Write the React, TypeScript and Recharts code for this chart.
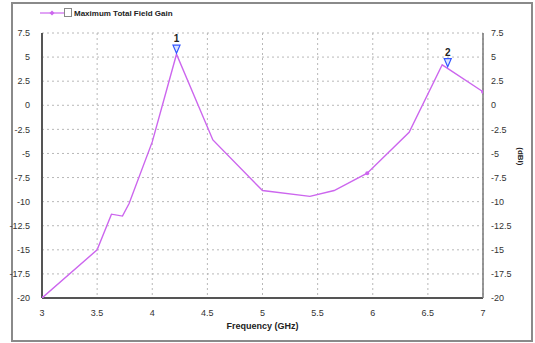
import React from "react";
import {
  ComposedChart,
  Line,
  Scatter,
  XAxis,
  YAxis,
  CartesianGrid,
} from "recharts";

// Frequency sweep (GHz) and maximum total field gain (dBi)
const frequencies = [3, 3.5, 3.63, 3.73, 3.79, 4, 4.22, 4.55, 5, 5.43, 5.65, 5.95, 6.33, 6.63, 7];
const gains = [-20, -15, -11.3, -11.5, -10.2, -3.8, 5.3, -3.6, -8.85, -9.45, -8.85, -7.05, -2.8, 4.2, 1.4];

// Sample points drawn with a dot marker
const dottedFreqs = [3, 5.95, 7];

// Peak markers
const markerFreqs = [4.22, 6.68];
const markerGains = [5.3, 3.9];
const markerLabels = ["1", "2"];

const xTicks = [3, 3.5, 4, 4.5, 5, 5.5, 6, 6.5, 7];
const yTicks = [-20, -17.5, -15, -12.5, -10, -7.5, -5, -2.5, 0, 2.5, 5, 7.5];

const seriesName = "Maximum Total Field Gain";

const lineData = frequencies.map((f, i) => ({ f, g: gains[i] }));
const markerData = markerFreqs.map((f, i) => ({ f, g: markerGains[i], label: markerLabels[i] }));

const LINE_COLOR = "#cc66ee";
const FONT = "'Liberation Sans', Arial, sans-serif";

const MarkerShape = (props: any) => {
  const { cx, cy, payload } = props;
  if (cx == null || cy == null) return null;
  const tipY = cy - 1;
  const top = tipY - 8;
  return (
    <g>
      <polygon
        points={`${cx - 3.5},${top} ${cx + 3.5},${top} ${cx},${tipY}`}
        fill="#dde6ff"
        stroke="#3355ff"
        strokeWidth={1.2}
      />
      <text
        x={cx}
        y={top - 3}
        textAnchor="middle"
        fontFamily={FONT}
        fontSize={10}
        fontWeight="bold"
        fill="#222"
      >
        {payload.label}
      </text>
    </g>
  );
};

const SampleDot = (props: any) => {
  const { cx, cy, payload, index } = props;
  if (cx == null || cy == null || !dottedFreqs.includes(payload.f)) {
    return <g key={`d-${index}`} />;
  }
  return <circle key={`d-${index}`} cx={cx} cy={cy} r={2} fill={LINE_COLOR} />;
};

const tickStyle = { fontFamily: FONT, fontSize: 9, fill: "#333" };

export default function App() {
  return (
    <div style={{ position: "absolute", left: 0, top: 0, width: 535, height: 343, background: "#fff" }}>
      <div
        style={{
          position: "absolute",
          left: 11,
          top: 2,
          width: 518,
          height: 336,
          border: "2px solid #8a8a8a",
        }}
      />
      <svg style={{ position: "absolute", left: 0, top: 0 }} width={300} height={24}>
        <line x1={40} y1={13} x2={64} y2={13} stroke={LINE_COLOR} strokeWidth={1.2} />
        <polygon points="52,10.5 54.5,13 52,15.5 49.5,13" fill={LINE_COLOR} />
        <rect x={64.5} y={8.5} width={7} height={8} fill="#fff" stroke="#888" strokeWidth={1} />
        <text x={74} y={16} fontFamily={FONT} fontSize={8} fontWeight="bold" fill="#222">
          {seriesName}
        </text>
      </svg>
      <div style={{ position: "absolute", left: 0, top: 0 }}>
        <ComposedChart
          width={535}
          height={343}
          margin={{ top: 33, right: 0, bottom: 0, left: 0 }}
        >
          <CartesianGrid
            xAxisId="b"
            yAxisId="l"
            stroke="#b8b8b8"
            strokeDasharray="2 3"
          />
          <XAxis
            xAxisId="b"
            dataKey="f"
            type="number"
            domain={[3, 7]}
            ticks={xTicks}
            interval={0}
            height={45}
            tick={tickStyle}
            tickLine={false}
            axisLine={{ stroke: "#555", strokeWidth: 2 }}
            tickMargin={6}
            allowDataOverflow
            label={{
              value: "Frequency (GHz)",
              position: "insideBottom",
              offset: 14,
              style: { fontFamily: FONT, fontSize: 9, fontWeight: "bold", fill: "#222" },
            }}
          />
          <XAxis
            xAxisId="t"
            orientation="top"
            dataKey="f"
            type="number"
            domain={[3, 7]}
            height={0}
            tick={false}
            tickLine={false}
            axisLine={{ stroke: "#777", strokeWidth: 1.5 }}
            allowDataOverflow
          />
          <YAxis
            yAxisId="l"
            type="number"
            domain={[-20, 7.5]}
            ticks={yTicks}
            interval={0}
            width={42}
            tick={tickStyle}
            tickLine={false}
            tickMargin={6}
            axisLine={{ stroke: "#555", strokeWidth: 2 }}
            allowDataOverflow
          />
          <YAxis
            yAxisId="r"
            orientation="right"
            type="number"
            domain={[-20, 7.5]}
            ticks={yTicks}
            interval={0}
            width={52}
            tick={{ ...tickStyle, textAnchor: "start" }}
            tickLine={false}
            tickMargin={2}
            axisLine={{ stroke: "#777", strokeWidth: 1.5 }}
            allowDataOverflow
            label={{
              value: "(dBi)",
              angle: 90,
              position: "insideRight",
              offset: 14,
              style: { fontFamily: FONT, fontSize: 8, fontWeight: "bold", fill: "#222" },
            }}
          />
          {/* same series bound to the top/right axes so they share its scale */}
          <Line
            xAxisId="t"
            yAxisId="r"
            data={lineData}
            dataKey="g"
            stroke="none"
            dot={false}
            activeDot={false}
            isAnimationActive={false}
          />
          <Line
            xAxisId="b"
            yAxisId="l"
            data={lineData}
            dataKey="g"
            stroke={LINE_COLOR}
            strokeWidth={1.4}
            dot={<SampleDot />}
            isAnimationActive={false}
          />
          <Scatter
            xAxisId="b"
            yAxisId="l"
            data={markerData}
            dataKey="g"
            shape={<MarkerShape />}
            isAnimationActive={false}
          />
        </ComposedChart>
      </div>
    </div>
  );
}
